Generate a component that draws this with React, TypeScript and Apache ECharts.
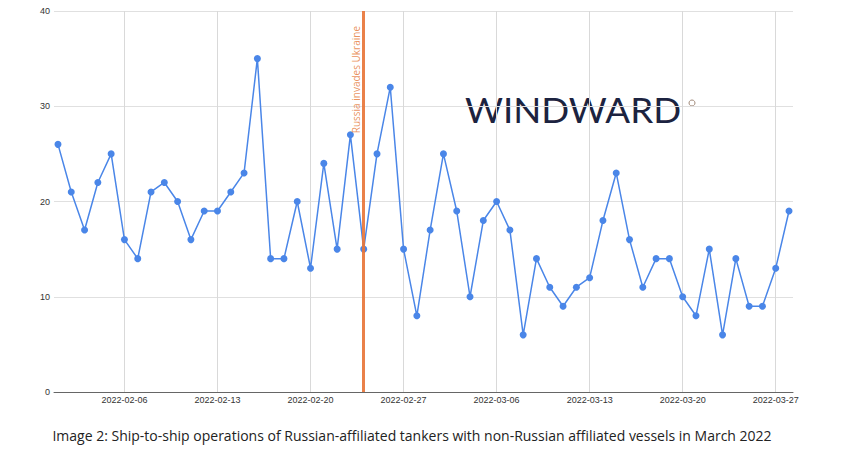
import React, { useEffect, useRef } from "react";
import * as echarts from "echarts";

const dates: string[] = [
  "2022-02-01","2022-02-02","2022-02-03","2022-02-04","2022-02-05","2022-02-06","2022-02-07",
  "2022-02-08","2022-02-09","2022-02-10","2022-02-11","2022-02-12","2022-02-13","2022-02-14",
  "2022-02-15","2022-02-16","2022-02-17","2022-02-18","2022-02-19","2022-02-20","2022-02-21",
  "2022-02-22","2022-02-23","2022-02-24","2022-02-25","2022-02-26","2022-02-27","2022-02-28",
  "2022-03-01","2022-03-02","2022-03-03","2022-03-04","2022-03-05","2022-03-06","2022-03-07",
  "2022-03-08","2022-03-09","2022-03-10","2022-03-11","2022-03-12","2022-03-13","2022-03-14",
  "2022-03-15","2022-03-16","2022-03-17","2022-03-18","2022-03-19","2022-03-20","2022-03-21",
  "2022-03-22","2022-03-23","2022-03-24","2022-03-25","2022-03-26","2022-03-27","2022-03-28",
];

const operations: number[] = [
  26, 21, 17, 22, 25, 16, 14,
  21, 22, 20, 16, 19, 19, 21,
  23, 35, 14, 14, 20, 13, 24,
  15, 27, 15, 25, 32, 15, 8,
  17, 25, 19, 10, 18, 20, 17,
  6, 14, 11, 9, 11, 12, 18,
  23, 16, 11, 14, 14, 10, 8,
  15, 6, 14, 9, 9, 13, 19,
];

const tickDates: string[] = [
  "2022-02-06", "2022-02-13", "2022-02-20", "2022-02-27",
  "2022-03-06", "2022-03-13", "2022-03-20", "2022-03-27",
];

const yTicks: number[] = [0, 10, 20, 30, 40];

const invasionDate = "2022-02-24";
const invasionLabel = "Russia invades Ukraine";
const logoText = "WINDWARD";
const caption =
  "Image 2: Ship-to-ship operations of Russian-affiliated tankers with non-Russian affiliated vessels in March 2022";

const DAY = 24 * 3600 * 1000;
function ts(s: string): number {
  const [y, m, d] = s.split("-").map(Number);
  return Date.UTC(y, m - 1, d);
}
const origin = ts(dates[0]);
function dayIndex(s: string): number {
  return Math.round((ts(s) - origin) / DAY);
}
function fmt(idx: number): string {
  const d = new Date(origin + Math.round(idx) * DAY);
  const mm = String(d.getUTCMonth() + 1).padStart(2, "0");
  const dd = String(d.getUTCDate()).padStart(2, "0");
  return `${d.getUTCFullYear()}-${mm}-${dd}`;
}

export default function App() {
  const ref = useRef<HTMLDivElement>(null);
  useEffect(() => {
    if (!ref.current) return;
    const chart = echarts.init(ref.current, null, { renderer: "svg" });
    const tickIdx = tickDates.map(dayIndex);
    chart.setOption({
      animation: false,
      backgroundColor: "#ffffff",
      grid: { left: 54, right: 49, top: 11, bottom: 58, containLabel: false },
      xAxis: {
        type: "value",
        min: -0.3,
        max: dayIndex(dates[dates.length - 1]) + 0.3,
        axisLine: { show: true, onZero: false, lineStyle: { color: "#666666", width: 1 } },
        axisTick: { show: false, customValues: tickIdx },
        axisLabel: {
          customValues: tickIdx,
          formatter: (v: number) => fmt(v),
          color: "#333333",
          fontSize: 9,
          fontFamily: "Arial, Liberation Sans, sans-serif",
          margin: 3,
        },
        splitLine: { show: true, lineStyle: { color: "#d9d9d9", width: 1 } },
      },
      yAxis: {
        type: "value",
        min: yTicks[0],
        max: yTicks[yTicks.length - 1],
        interval: 10,
        axisLine: { show: false },
        axisTick: { show: false },
        axisLabel: {
          color: "#333333",
          fontSize: 9,
          fontFamily: "Arial, Liberation Sans, sans-serif",
          margin: 4,
        },
        splitLine: { show: true, lineStyle: { color: "#e0e0e0", width: 1 } },
      },
      series: [
        {
          type: "line",
          data: dates.map((d, i) => [dayIndex(d), operations[i]]),
          symbol: "circle",
          symbolSize: 7,
          itemStyle: { color: "#4a86e8" },
          lineStyle: { color: "#4a86e8", width: 1.5 },
          markLine: {
            silent: true,
            symbol: ["none", "none"],
            data: [{ xAxis: dayIndex(invasionDate) }],
            lineStyle: { color: "#e8763a", width: 3, type: "solid", opacity: 0.92 },
            label: {
              show: true,
              formatter: invasionLabel,
              position: "insideEndTop",
              color: "#e8884e",
              fontSize: 10,
              fontFamily: "Open Sans, sans-serif",
              distance: 3,
              padding: [0, 12, 0, 0],
            },
          },
        },
      ],
      graphic: [
        {
          type: "text",
          x: 465,
          y: 110.5,
          scaleX: 1.08,
          style: {
            text: logoText,
            fill: "#1c2340",
            font: "400 34px Lato, sans-serif",
            verticalAlign: "middle",
            align: "left",
          },
        },
        {
          type: "circle",
          shape: { cx: 692, cy: 103, r: 3 },
          style: { fill: "none", stroke: "#a08878", lineWidth: 1 },
        },
        {
          type: "text",
          x: 412,
          y: 435,
          style: {
            text: caption,
            fill: "#222222",
            font: "14px 'Open Sans', sans-serif",
            align: "center",
            verticalAlign: "middle",
          },
        },
      ],
    });
    return () => chart.dispose();
  }, []);
  return (
    <div
      ref={ref}
      style={{ position: "fixed", left: 0, top: 0, width: 842, height: 450, background: "#fff" }}
    />
  );
}
